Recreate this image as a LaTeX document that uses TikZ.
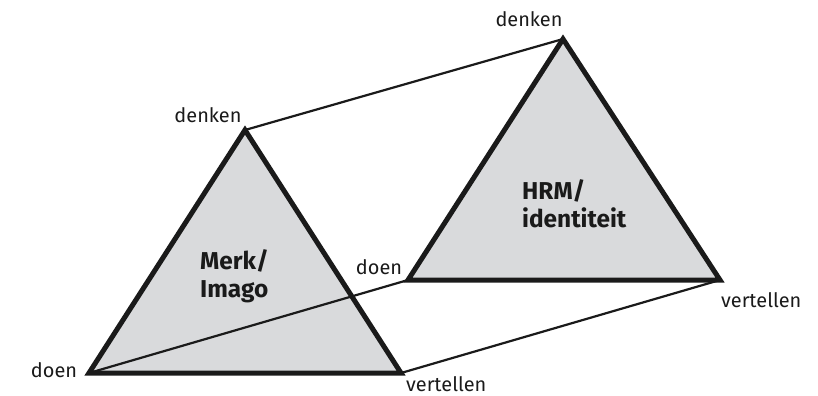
\documentclass[tikz,border=0pt]{standalone}
\usepackage{fontspec}
\setmainfont{Fira Sans}
\definecolor{trifill}{HTML}{D9DADC}
\definecolor{ink}{HTML}{1A1A1A}
\begin{document}
\begin{tikzpicture}[x=1bp,y=-1bp,
  thick edge/.style={draw=ink,line width=5bp,line join=miter},
  thin edge/.style={draw=ink,line width=2.2bp,line cap=butt},
  lbl/.style={font=\fontsize{20}{24}\selectfont,text=ink,inner sep=0pt},
  title/.style={font=\fontsize{24.5}{28}\selectfont\bfseries,text=ink,inner sep=0pt,align=left}]
\useasboundingbox (0,0) rectangle (818,395);
% vertices
\coordinate (fT) at (245,130);
\coordinate (fL) at (89,373);
\coordinate (fR) at (401,373);
\coordinate (bT) at (563,39);
\coordinate (bL) at (408,280);
\coordinate (bR) at (720,280);
% fills
\fill[trifill] (bT) -- (bL) -- (bR) -- cycle;
\fill[trifill] (fT) -- (fL) -- (fR) -- cycle;
% thin connectors
\draw[thin edge] (fT) -- (bT);
\draw[thin edge] (fL) -- (bL);
\draw[thin edge] (fR) -- (bR);
% thick outlines
\draw[thick edge] (bT) -- (bL) -- (bR) -- cycle;
\draw[thick edge] (fT) -- (fL) -- (fR) -- cycle;
% labels
\node[lbl] (l1) at (208,115) {denken};
\node[lbl] (l2) at (529,19) {denken};
\node[lbl] (l3) at (54,370) {doen};
\node[lbl,anchor=west] (l4) at (406,384) {vertellen};
\node[lbl] (l5) at (379,267) {doen};
\node[lbl,anchor=west] (l6) at (721,300) {vertellen};
\node[title,anchor=west] (t1) at (522,204) {HRM/\\identiteit};
\node[title,anchor=west] (t2) at (200,276) {Merk/\\Imago};
\end{tikzpicture}
\end{document}
